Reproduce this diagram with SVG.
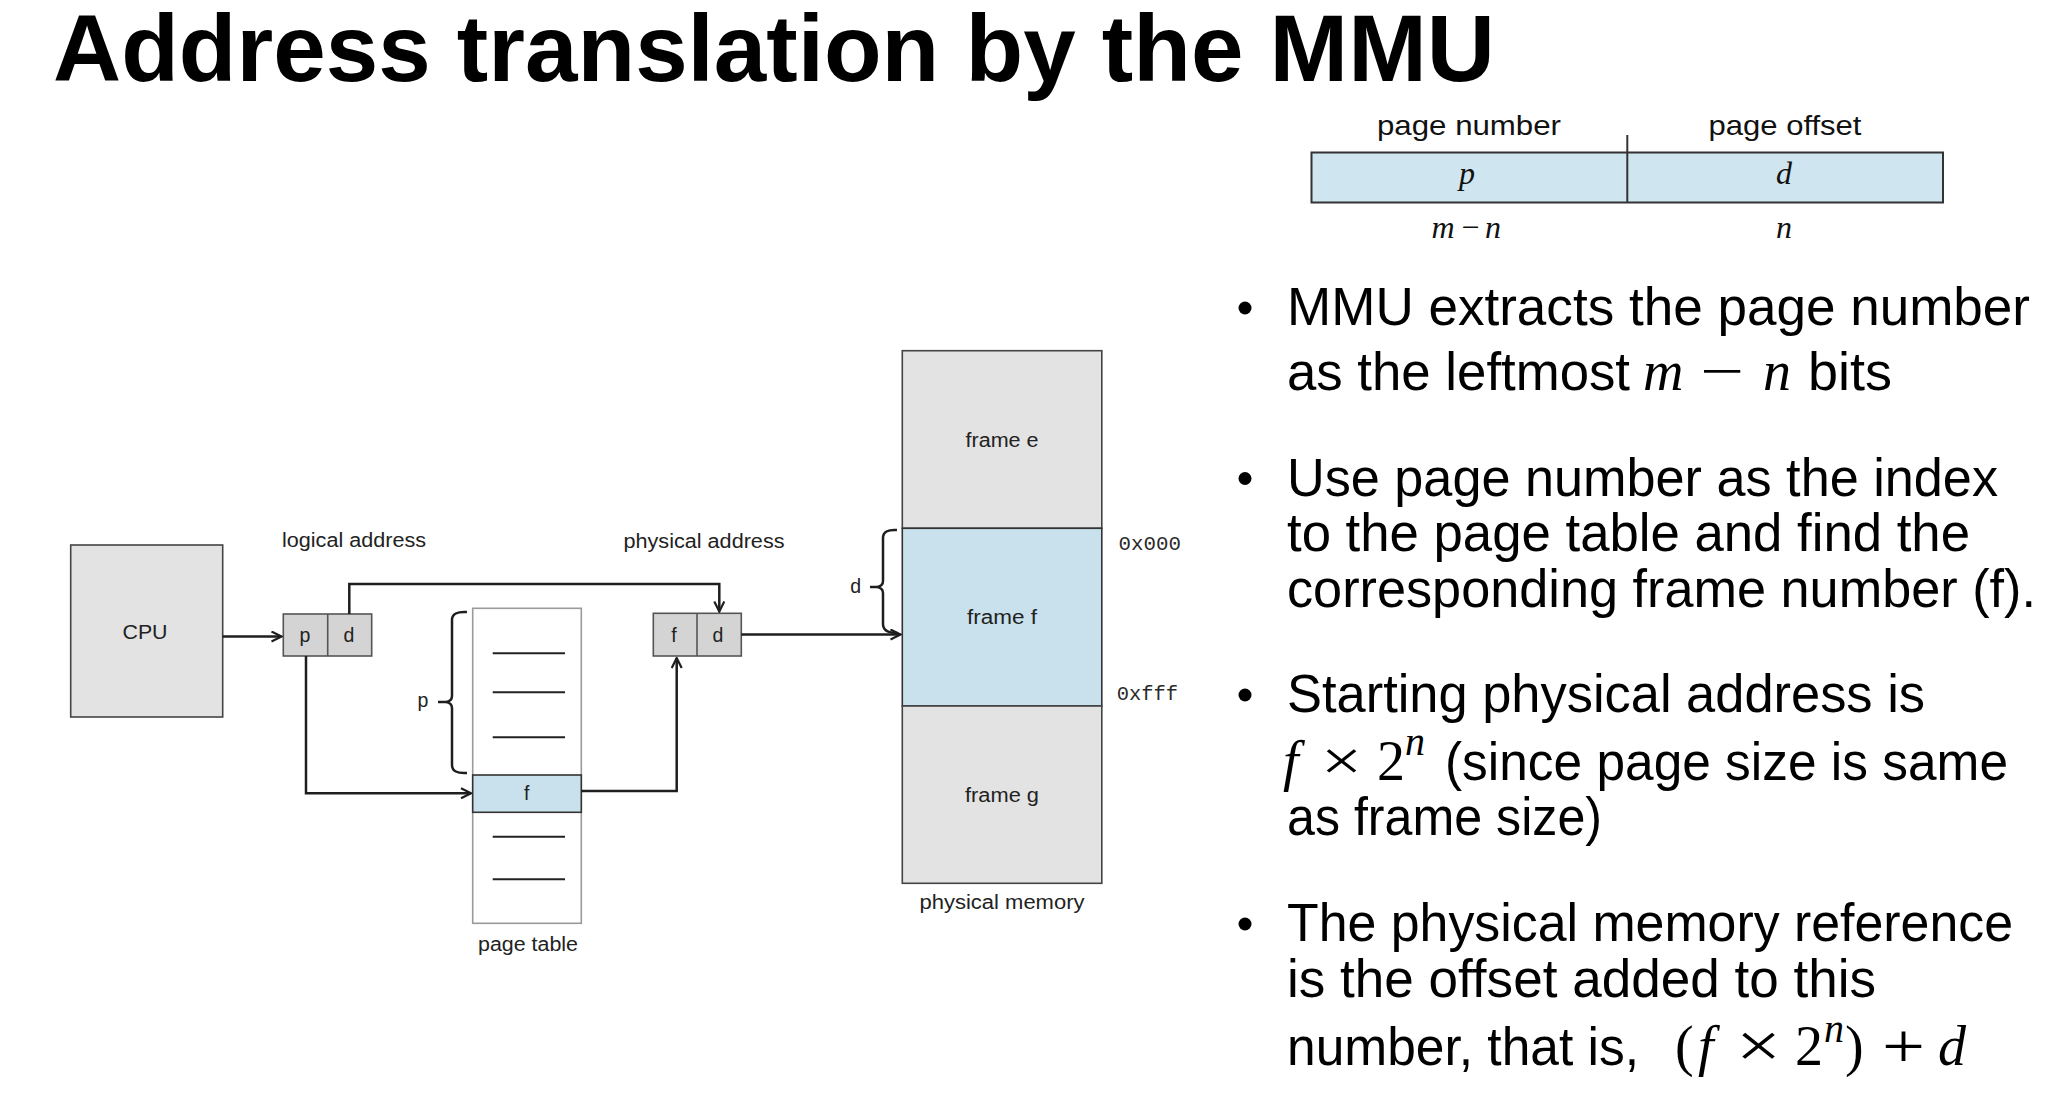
<svg xmlns="http://www.w3.org/2000/svg" width="2054" height="1110" viewBox="0 0 2054 1110">
  <style>
    .title { font-family: "Liberation Sans", Arial, sans-serif; font-weight: bold; font-size: 95px; fill: #000; }
    .body { font-family: "Liberation Sans", Arial, sans-serif; font-size: 53px; fill: #000; }
    .math { font-family: "Liberation Serif", "Times New Roman", serif; font-size: 56px; fill: #000; }
    .mi { font-style: italic; }
    .op { font-family: "Liberation Serif", "Times New Roman", serif; font-size: 64px; fill: #000; }
    .sup { font-family: "Liberation Serif", "Times New Roman", serif; font-style: italic; font-size: 40px; fill: #000; }
    .hdr { font-family: "Liberation Sans", Arial, sans-serif; font-size: 27.5px; fill: #111; text-anchor: middle; }
    .var { font-family: "Liberation Serif", "Times New Roman", serif; font-style: italic; font-size: 32px; fill: #111; text-anchor: middle; }
    .lbl { font-family: "Liberation Sans", Arial, sans-serif; font-size: 19.5px; fill: #222; text-anchor: middle; }
    .mono { font-family: "Liberation Mono", "Courier New", monospace; font-size: 20px; fill: #2a2a2a; }
    .gray { fill: #e3e3e3; stroke: #444; stroke-width: 1.6; }
    .cell { fill: #d4d4d4; stroke: #555; stroke-width: 1.6; }
    .blue { fill: #c9e1ec; stroke: #333; stroke-width: 1.6; }
    .rule { stroke: #222; stroke-width: 2; }
    .wire { fill: none; stroke: #1e1e1e; stroke-width: 2.5; }
    .arrow { fill: none; stroke: #1e1e1e; stroke-width: 2.5; marker-end: url(#chev); }
  </style>
  <defs>
    <marker id="chev" viewBox="0 0 12 12" refX="11" refY="6" markerWidth="12" markerHeight="12" markerUnits="userSpaceOnUse" orient="auto">
      <path d="M1,1 L11,6 L1,11" fill="none" stroke="#1e1e1e" stroke-width="2.2"/>
    </marker>
  </defs>

  <rect width="2054" height="1110" fill="#fff"/>

  <!-- heading -->
  <text class="title" x="53" y="81" textLength="1442" lengthAdjust="spacingAndGlyphs">Address translation by the MMU</text>

  <!-- logical address format: page number | page offset -->
  <g id="address-format">
    <text class="hdr" x="1469" y="135" textLength="184" lengthAdjust="spacingAndGlyphs">page number</text>
    <text class="hdr" x="1785" y="135" textLength="153" lengthAdjust="spacingAndGlyphs">page offset</text>
    <rect x="1311.5" y="152.5" width="631.5" height="50" fill="#cfe5ef" stroke="#333" stroke-width="2"/>
    <line x1="1627.3" y1="135" x2="1627.3" y2="202.5" stroke="#333" stroke-width="2"/>
    <text class="var" x="1467" y="184">p</text>
    <text class="var" x="1784" y="184">d</text>
    <text class="var" x="1443" y="238">m</text>
    <text class="var" x="1470" y="238" font-style="normal">−</text>
    <text class="var" x="1493" y="238">n</text>
    <text class="var" x="1784" y="238">n</text>
  </g>

  <!-- CPU -->
  <g id="cpu">
    <rect class="gray" x="70.7" y="545" width="152" height="172"/>
    <text class="lbl" x="145" y="638.5" textLength="45" lengthAdjust="spacingAndGlyphs">CPU</text>
  </g>

  <!-- logical address register -->
  <g id="logical-address">
    <text class="lbl" x="354" y="547" textLength="144" lengthAdjust="spacingAndGlyphs">logical address</text>
    <rect class="cell" x="283.3" y="614" width="88.4" height="42"/>
    <line x1="327.7" y1="614" x2="327.7" y2="656" stroke="#555" stroke-width="1.6"/>
    <text class="lbl" x="305" y="641.5">p</text>
    <text class="lbl" x="349" y="641.5">d</text>
  </g>

  <!-- page table -->
  <g id="page-table">
    <rect x="472.7" y="608.3" width="108.6" height="315" fill="#fff" stroke="#9a9a9a" stroke-width="1.6"/>
    <rect class="blue" x="472.7" y="775" width="108.6" height="37.3"/>
    <text class="lbl" x="526.7" y="800">f</text>
    <line class="rule" x1="492.7" y1="653.3" x2="565" y2="653.3"/>
    <line class="rule" x1="492.7" y1="692.3" x2="565" y2="692.3"/>
    <line class="rule" x1="492.7" y1="737.3" x2="565" y2="737.3"/>
    <line class="rule" x1="492.7" y1="836.7" x2="565" y2="836.7"/>
    <line class="rule" x1="492.7" y1="879.3" x2="565" y2="879.3"/>
    <text class="lbl" x="528" y="951" textLength="100" lengthAdjust="spacingAndGlyphs">page table</text>
    <!-- index brace -->
    <path class="wire" d="M467 612 Q452 611 452 620 V696 Q452 701 446 702 H438 M446 702 Q452 703 452 708 V765 Q452 774 467 773"/>
    <text class="lbl" x="423" y="707">p</text>
  </g>

  <!-- physical address register -->
  <g id="physical-address">
    <text class="lbl" x="704" y="548.3" textLength="161" lengthAdjust="spacingAndGlyphs">physical address</text>
    <rect class="cell" x="653.3" y="613.3" width="88" height="42.7"/>
    <line x1="697" y1="613.3" x2="697" y2="656" stroke="#555" stroke-width="1.6"/>
    <text class="lbl" x="674" y="641.5">f</text>
    <text class="lbl" x="718" y="641.5">d</text>
  </g>

  <!-- physical memory -->
  <g id="physical-memory">
    <rect class="gray" x="902.3" y="350.7" width="199.5" height="177.6" stroke="#333" stroke-width="2"/>
    <rect class="blue" x="902.3" y="528.3" width="199.5" height="177.7" stroke-width="2"/>
    <rect class="gray" x="902.3" y="706" width="199.5" height="177.3" stroke="#333" stroke-width="2"/>
    <text class="lbl" x="1002" y="446.5" textLength="73" lengthAdjust="spacingAndGlyphs">frame e</text>
    <text class="lbl" x="1002" y="624" textLength="70" lengthAdjust="spacingAndGlyphs">frame f</text>
    <text class="lbl" x="1002" y="801.5" textLength="74" lengthAdjust="spacingAndGlyphs">frame g</text>
    <text class="lbl" x="1002" y="908.5" textLength="165" lengthAdjust="spacingAndGlyphs">physical memory</text>
    <text class="mono" x="1118.6" y="549.5" textLength="62.4" lengthAdjust="spacingAndGlyphs">0x000</text>
    <text class="mono" x="1116.7" y="700" textLength="61.3" lengthAdjust="spacingAndGlyphs">0xfff</text>
    <!-- offset brace -->
    <path class="wire" d="M897 530 Q883 529 883 538 V581 Q883 586 877 587 H870 M877 587 Q883 588 883 593 V624 Q883 633 897 633"/>
    <text class="lbl" x="855.6" y="593">d</text>
  </g>

  <!-- connectors -->
  <g id="connectors">
    <path class="arrow" d="M222.7 636.5 H281.5"/>
    <path class="arrow" d="M349.3 614 V584 H719.3 V611.5"/>
    <path class="arrow" d="M306 656 V793.3 H471"/>
    <path class="arrow" d="M581.3 791 H676.7 V658"/>
    <path class="arrow" d="M741.3 634.5 H900.5"/>
  </g>

  <!-- bullet points -->
  <g id="notes">
    <circle cx="1245" cy="308" r="6.5" fill="#000"/>
    <text class="body" x="1287" y="325" textLength="743" lengthAdjust="spacingAndGlyphs">MMU extracts the page number</text>
    <text class="body" x="1287" y="390" textLength="343" lengthAdjust="spacingAndGlyphs">as the leftmost</text>
    <text class="math mi" x="1643" y="390">m</text>
    <text class="math" x="1700" y="390" textLength="44" lengthAdjust="spacingAndGlyphs">−</text>
    <text class="math mi" x="1763" y="390">n</text>
    <text class="body" x="1808" y="390" textLength="84" lengthAdjust="spacingAndGlyphs">bits</text>

    <circle cx="1245" cy="478.5" r="6.5" fill="#000"/>
    <text class="body" x="1287" y="495.5" textLength="711" lengthAdjust="spacingAndGlyphs">Use page number as the index</text>
    <text class="body" x="1287" y="551" textLength="683" lengthAdjust="spacingAndGlyphs">to the page table and find the</text>
    <text class="body" x="1287" y="607" textLength="749" lengthAdjust="spacingAndGlyphs">corresponding frame number (f).</text>

    <circle cx="1245" cy="695" r="6.5" fill="#000"/>
    <text class="body" x="1287" y="711.7" textLength="638" lengthAdjust="spacingAndGlyphs">Starting physical address is</text>
    <text class="math mi" x="1283" y="780">f</text>
    <text class="math" x="1321" y="780" textLength="41" lengthAdjust="spacingAndGlyphs">×</text>
    <text class="math" x="1377" y="780">2</text>
    <text class="sup" x="1405" y="755">n</text>
    <text class="body" x="1445" y="780" textLength="563" lengthAdjust="spacingAndGlyphs">(since page size is same</text>
    <text class="body" x="1287" y="835" textLength="315" lengthAdjust="spacingAndGlyphs">as frame size)</text>

    <circle cx="1245" cy="924" r="6.5" fill="#000"/>
    <text class="body" x="1287" y="941" textLength="726" lengthAdjust="spacingAndGlyphs">The physical memory reference</text>
    <text class="body" x="1287" y="997" textLength="589" lengthAdjust="spacingAndGlyphs">is the offset added to this</text>
    <text class="body" x="1287" y="1065" textLength="352" lengthAdjust="spacingAndGlyphs">number, that is,</text>
    <text class="math" x="1675" y="1065">(</text>
    <text class="math mi" x="1698" y="1065">f</text>
    <text class="op" x="1736" y="1067" textLength="45" lengthAdjust="spacingAndGlyphs">×</text>
    <text class="math" x="1795" y="1065">2</text>
    <text class="sup" x="1824" y="1042">n</text>
    <text class="math" x="1845" y="1065">)</text>
    <text class="op" x="1882" y="1068" textLength="43" lengthAdjust="spacingAndGlyphs">+</text>
    <text class="math mi" x="1938" y="1065">d</text>
  </g>
</svg>
